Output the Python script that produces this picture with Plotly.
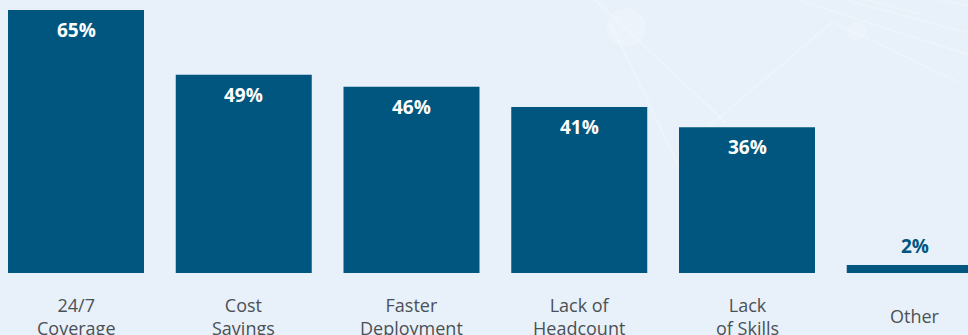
import plotly.graph_objects as go

categories = ["24/7<br>Coverage", "Cost<br>Savings", "Faster<br>Deployment",
              "Lack of<br>Headcount", "Lack<br>of Skills", "Other"]
values = [65, 49, 46, 41, 36, 2]
value_labels = ["65%", "49%", "46%", "41%", "36%", "2%"]

BAR = "#01567f"
BG = "#e8f1f9"
xs = list(range(len(categories)))
STEP = 167.75  # pixels per category

fig = go.Figure()
fig.add_trace(go.Bar(x=xs, y=values, width=136/STEP, marker=dict(color=BAR, line=dict(width=0)),
                     hoverinfo="skip"))

annotations = []
for x, v, t, c in zip(xs, values, value_labels, categories):
    inside = v > 10
    annotations.append(dict(
        x=x, y=v, xref="x", yref="y", text=t, showarrow=False,
        yanchor="middle", yshift=-20 if inside else 19,
        font=dict(family="Open Sans", size=19, color="white" if inside else BAR, weight="bold")))
    annotations.append(dict(
        x=x, y=0, xref="x", yref="y", text=c, showarrow=False,
        yanchor="middle", yshift=-43,
        font=dict(family="Open Sans", size=18, color="#4b5057")))

# faint decorative network in the background
shapes = []
net_lines = [((0.60, 1.05), (0.75, 0.55)), ((0.63, 0.92), (0.70, 0.40)),
             ((0.84, 1.05), (0.95, 0.95)), ((0.86, 0.92), (0.99, 0.70)),
             ((0.86, 0.92), (0.72, 0.50)), ((0.78, 1.05), (1.0, 0.80)),
             ((0.82, 1.05), (1.0, 0.88)), ((0.90, 1.05), (1.0, 0.98))]
for (x0, y0), (x1, y1) in net_lines:
    shapes.append(dict(type="line", xref="paper", yref="paper", x0=x0, y0=y0, x1=x1, y1=y1,
                       line=dict(color="rgba(255,255,255,0.25)", width=1.5), layer="below"))
shapes.append(dict(type="circle", xref="paper", yref="paper", x0=0.627, x1=0.667, y0=0.83, y1=0.97,
                   fillcolor="rgba(255,255,255,0.2)", line=dict(width=0), layer="below"))
shapes.append(dict(type="circle", xref="paper", yref="paper", x0=0.875, x1=0.895, y0=0.85, y1=0.92,
                   fillcolor="rgba(255,255,255,0.2)", line=dict(width=0), layer="below"))

fig.update_layout(
    width=968, height=335,
    margin=dict(l=0, r=0, t=0, b=62),
    paper_bgcolor=BG, plot_bgcolor="rgba(0,0,0,0)",
    showlegend=False,
    xaxis=dict(range=[-76/STEP, 892/STEP], visible=False, fixedrange=True),
    yaxis=dict(range=[0, 67.47], visible=False, fixedrange=True),
    annotations=annotations, shapes=shapes,
)
fig.write_html("out.html", config={"displayModeBar": False})
